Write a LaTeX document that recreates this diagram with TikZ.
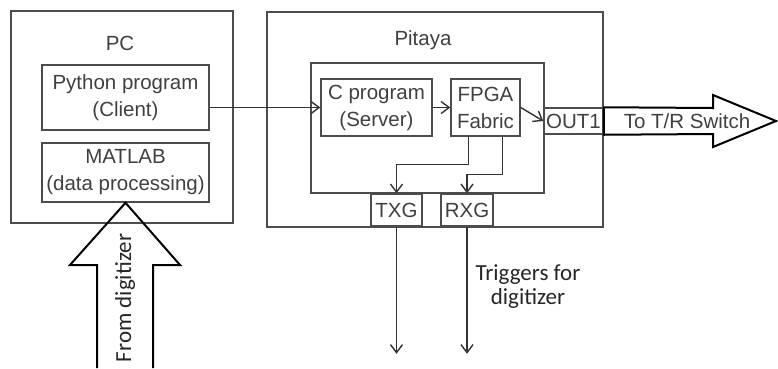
\documentclass[tikz,border=0pt]{standalone}
\usepackage{fontspec}
\setmainfont{Liberation Sans}
\newfontfamily\calibri{Carlito}
\usetikzlibrary{calc,arrows.meta}

\begin{document}
\begin{tikzpicture}[x=1pt,y=-1pt,inner sep=0pt,
    font=\fontsize{20.5}{27}\selectfont,
    box/.style={draw=black!70,line width=1.5pt,text=black!75,align=center},
    title/.style={text=black!75},
    note/.style={text=black!85,font=\calibri\fontsize{23}{24}\selectfont,align=center},
    link/.style={draw=black!80,line width=1.4pt},
    bigarrow/.style={draw=black,line width=2pt,line join=miter},
    >={Straight Barb[length=8pt,width=12pt,line width=1.4pt]}]
    \useasboundingbox (0,0) rectangle (778,368);
    % PC
    \draw node [box,minimum width=222,minimum height=212] (PC) at (122,117) {};
    \draw node [title] (PCname) at (120,43) {PC};
    \draw node [box,minimum width=167,minimum height=65] (python) at (125.5,97.5)
        {Python program\\(Client)};
    \draw node [box,minimum width=167,minimum height=59] (matlab) at (125.5,172.5)
        {MATLAB\\(data processing)};
    % Pitaya
    \draw node [box,minimum width=336,minimum height=215] (pitaya) at (435,119.5) {};
    \draw node [title] (pitayaname) at (423,40) {Pitaya};
    \draw node [box,minimum width=233,minimum height=130] (inner) at (427.5,128) {};
    \draw node [box,minimum width=111,minimum height=57] (cprog) at (376.5,107.5)
        {C program\\(Server)};
    \draw node [box,minimum width=69,minimum height=57] (fpga) at (485.5,107.5)
        {FPGA\\Fabric};
    \draw node [box,minimum width=59,minimum height=26] (out1) at (573.5,121) {OUT1};
    \draw node [box,minimum width=51,minimum height=32] (txg) at (396.5,210) {TXG};
    \draw node [box,minimum width=52,minimum height=32] (rxg) at (467,210) {RXG};
    % links
    \draw [link,->] (python.east |- cprog.west) -- (cprog.west);
    \draw [link,->] (cprog.east) -- (fpga.west);
    \draw [link,->] (fpga.east) -- (out1.west);
    \draw [link,->] ($(fpga.south west)+(18,0)$) -- ++(0,28) -| (txg.north);
    \draw [link,->] ($(fpga.south west)+(52,0)$) -- ++(0,38) -| (rxg.north);
    \coordinate (txgout) at ($(txg.south)+(0,127)$);
    \coordinate (rxgout) at ($(rxg.south)+(0,127)$);
    \draw [link,->] (txg.south) -- (txgout);
    \draw [link,->] (rxg.south) -- (rxgout);
    \draw node [note] (trig) at (528,287) {Triggers for\\digitizer};
    % big arrows
    \draw [bigarrow] (out1.north east) -- (713,108) -- (713,95) -- (776,121)
        -- (713,147) -- (713,134) -- (out1.south east) -- cycle;
    \draw node [title] (tr) at (687,121) {To T/R Switch};
    \draw [bigarrow] (97,368) -- (97,265) -- (70,265) -- (matlab.south)
        -- (180,265) -- (153,265) -- (153,368);
    \draw node [note,rotate=90] (digi) at (125,298) {From digitizer};
\end{tikzpicture}
\end{document}
